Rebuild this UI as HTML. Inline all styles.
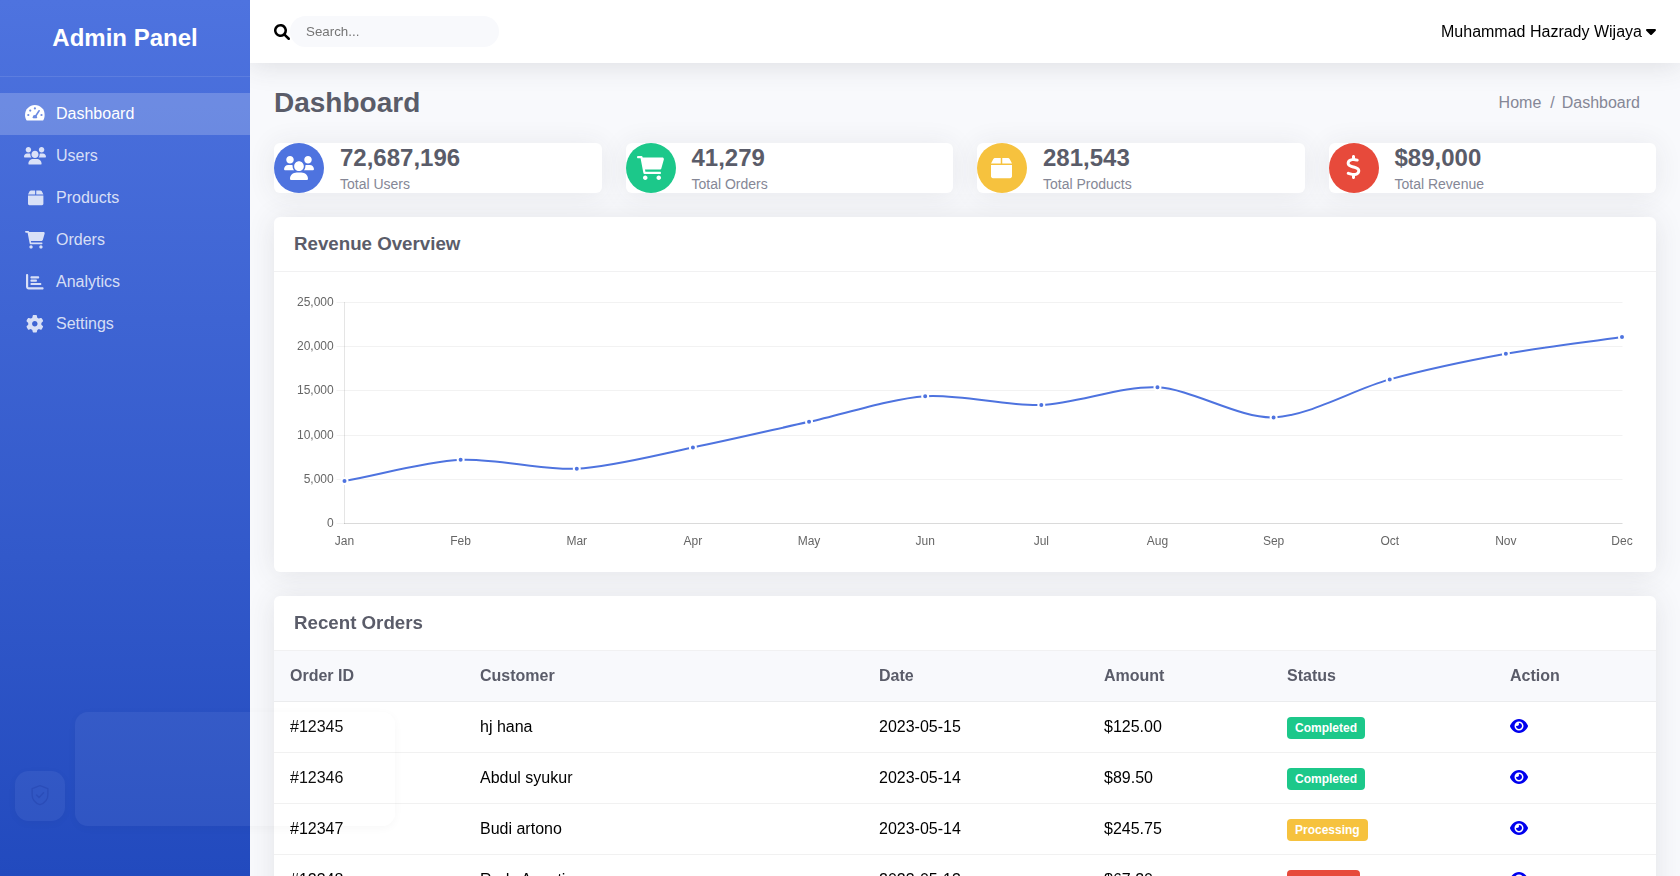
<!DOCTYPE html>
<html lang="en">
<head>
<meta charset="utf-8">
<title>Admin Panel</title>
<style>
*{box-sizing:border-box;margin:0;padding:0}
html,body{width:1680px;height:876px;overflow:hidden}
body{font-family:"Liberation Sans",sans-serif;font-size:16px;background:#f8f9fc;color:#000;position:relative}
svg{display:block}
/* ---------- sidebar ---------- */
.sidebar{position:absolute;left:0;top:0;width:250px;height:876px;background:linear-gradient(180deg,#4e73df 0%,#224abe 100%);color:#fff;z-index:5}
.sb-head{height:77px;padding:20px;border-bottom:1px solid rgba(255,255,255,.1);text-align:center}
.sb-head h2{font-size:24px;line-height:36px;font-weight:bold;color:#fff}
.menu{padding-top:16px;list-style:none}
.menu li{height:42px;padding:12px 24px;display:flex;align-items:center;color:rgba(255,255,255,.8);line-height:18px}
.menu li.active{background:rgba(255,255,255,.2);color:#fff}
.menu li .ic{width:22px;height:18px;margin-right:10px;display:flex;align-items:center;justify-content:center;flex:none}
.menu li .ic svg{height:17.6px;fill:currentColor;overflow:visible}
/* ---------- main ---------- */
.main{position:absolute;left:250px;top:0;width:1430px;height:876px}
.topbar{position:absolute;left:0;top:0;width:1430px;height:63px;background:#fff;box-shadow:0 2px 28px 0 rgba(58,59,69,.15);z-index:3}
.search-ic{position:absolute;left:24px;top:24px;width:16px;height:16px}
.search-in{will-change:transform;position:absolute;left:40px;top:16px;width:209px;height:31px;border-radius:16px;background:#f8f9fc;font-size:13.333px;color:#757575;padding:8px 16px;line-height:15px}
.user{will-change:transform;position:absolute;right:24px;top:23px;font-size:16px;line-height:18px;color:#000;display:flex;align-items:center;white-space:pre}
.user svg{width:10px;height:16px;fill:#000;position:relative;top:-1px}
.title{position:absolute;left:24px;top:86.5px;font-size:28px;font-weight:bold;color:#5a5c69;line-height:32px}
.crumb{position:absolute;right:40px;top:94px;font-size:16px;line-height:18px;color:#858796;white-space:pre}
.card{position:absolute;top:143px;width:327.5px;height:50px;background:#fff;border-radius:6px;box-shadow:0 2px 28px 0 rgba(58,59,69,.09)}
.card .circ{position:absolute;left:0;top:0;width:50px;height:50px;border-radius:50%;display:flex;align-items:center;justify-content:center}
.card .circ svg{height:24px;fill:#fff}
.card .num{position:absolute;left:66px;top:1px;font-size:24px;line-height:28px;font-weight:bold;color:#5a5c69}
.card .lab{position:absolute;left:66px;top:33px;font-size:14px;line-height:16px;color:#858796}
.panel{position:absolute;left:24px;width:1382px;background:#fff;border-radius:6px;box-shadow:0 2px 28px 0 rgba(58,59,69,.115);overflow:hidden}
.phead{height:55px;border-bottom:1px solid #f1f1f2;padding:0 20px;font-size:18.72px;font-weight:bold;color:#5a5c69;line-height:54px}
.chart{position:absolute;left:0;top:55px;will-change:transform}
.tbl{position:absolute;left:0;top:55px;width:1382px;border-collapse:separate;border-spacing:0;table-layout:fixed}
.tbl th{height:51px;background:#f8f9fc;text-align:left;padding:0 16px;font-size:16px;font-weight:bold;color:#5a5c69;border-bottom:1px solid #ebecee}
.tbl td{height:51px;padding:0 16px;font-size:16px;color:#000;border-bottom:1px solid #f1f1f1;vertical-align:middle}
.badge{display:inline-block;padding:4px 8px;border-radius:4px;font-size:12px;line-height:14px;font-weight:bold;color:#fff;vertical-align:middle;position:relative;top:1px}
.badge.ok{background:#1cc88a}.badge.pr{background:#f6c23e}.badge.ca{background:#e74a3b}
.eye{width:18px;height:16px;fill:#0000ee;position:relative;top:-1px}
.wg-big{position:absolute;left:75px;top:712px;width:320px;height:114px;border-radius:13px;background:rgba(255,255,255,.055);box-shadow:0 2px 10px rgba(0,0,40,.035);z-index:9}
.wg-sm{position:absolute;left:15px;top:771px;width:50px;height:50px;border-radius:14px;background:rgba(255,255,255,.055);box-shadow:0 2px 10px rgba(0,0,40,.035);z-index:9;display:flex;align-items:center;justify-content:center}
</style>
</head>
<body>
<div class="sidebar">
  <div class="sb-head"><h2>Admin Panel</h2></div>
  <ul class="menu" id="menu">
    <li class="active"><span class="ic"><svg viewBox="0 0 576 512" style="position:relative;top:-1px"><defs><mask id="gm"><rect x="0" y="0" width="576" height="512" fill="#fff"/><circle cx="288" cy="128" r="32" fill="#000"/><circle cx="152" cy="192" r="32" fill="#000"/><circle cx="96" cy="320" r="32" fill="#000"/><circle cx="480" cy="320" r="32" fill="#000"/><line x1="288" y1="384" x2="411" y2="197" stroke="#000" stroke-width="46" stroke-linecap="round"/><circle cx="288" cy="384" r="64" fill="#000"/><rect x="200" y="416" width="180" height="80" fill="#fff"/></mask></defs><path mask="url(#gm)" d="M288 32C128.900 32 0 160.900 0 320c0 52.750 14.250 102.300 39 144.800c5.625 9.625 16.380 15.250 27.500 15.250h443c11.120 0 21.880-5.625 27.500-15.250C561.800 422.300 576 372.800 576 320C576 160.900 447.100 32 288 32z"/></svg></span>Dashboard</li>
    <li><span class="ic"><svg viewBox="0 0 640 512"><path d="M319.900 320c57.410 0 103.100-46.560 103.100-104c0-57.440-46.540-104-103.100-104c-57.410 0-103.100 46.560-103.100 104C215.900 273.400 262.500 320 319.900 320zM369.900 352H270.100C191.600 352 128 411.700 128 485.300C128 500.100 140.700 512 156.400 512h327.200C499.300 512 512 500.100 512 485.300C512 411.700 448.400 352 369.900 352zM512 160c44.180 0 80-35.820 80-80S556.200 0 512 0c-44.180 0-80 35.820-80 80S467.800 160 512 160zM183.900 216c0-5.449 .9824-10.630 1.609-15.910C174.600 194.100 162.600 192 149.900 192H88.080C39.440 192 0 233.800 0 285.300C0 295.600 7.887 304 17.620 304h199.500C196.700 280.200 183.900 249.700 183.900 216zM128 160c44.180 0 80-35.820 80-80S172.200 0 128 0C83.820 0 48 35.820 48 80S83.820 160 128 160zM551.900 192h-61.840c-12.800 0-24.880 3.037-35.860 8.240C454.800 205.500 455.800 210.600 455.800 216c0 33.710-12.780 64.210-33.160 88h199.700C632.100 304 640 295.600 640 285.300C640 233.800 600.600 192 551.900 192z"/></svg></span>Users</li>
    <li><span class="ic"><svg viewBox="0 0 448 512" style="position:relative;left:0.3px"><path d="M47 68C55 52 75 44 93.670 44H208V160H0z M240 160V44H354.3C373 44 393 52 401 68L448 160z M448 432c0 22.100-17.900 40-40 40H40c-22.100 0-40-17.900-40-40V192H448z"/></svg></span>Products</li>
    <li><span class="ic"><svg viewBox="0 0 576 512"><path d="M96 0C107.500 0 117.400 8.190 119.600 19.510L121.100 32H541.800C562.100 32 578.300 52.250 572.600 72.660L518.600 264.700C514.700 278.500 502.100 288 487.800 288H170.700L179.900 336H488C501.300 336 512 346.700 512 360C512 373.300 501.300 384 488 384H159.100C148.500 384 138.600 375.800 136.400 364.500L76.140 48H24C10.750 48 0 37.250 0 24C0 10.750 10.750 0 24 0H96zM128 464C128 437.500 149.500 416 176 416C202.500 416 224 437.500 224 464C224 490.500 202.500 512 176 512C149.500 512 128 490.500 128 464zM512 464C512 490.500 490.500 512 464 512C437.500 512 416 490.500 416 464C416 437.500 437.500 416 464 416C490.500 416 512 437.500 512 464z"/></svg></span>Orders</li>
    <li><span class="ic"><svg viewBox="0 0 512 512"><path d="M32 32C49.670 32 64 46.330 64 64V400C64 408.800 71.160 416 80 416H480C497.700 416 512 430.300 512 448C512 465.700 497.700 480 480 480H80C35.820 480 0 444.200 0 400V64C0 46.330 14.330 32 32 32zM128 128C128 110.300 142.300 96 160 96H352C369.700 96 384 110.300 384 128C384 145.700 369.700 160 352 160H160C142.300 160 128 145.700 128 128zM288 192C305.700 192 320 206.300 320 224C320 241.700 305.700 256 288 256H160C142.300 256 128 241.700 128 224C128 206.300 142.300 192 160 192H288zM416 288C433.700 288 448 302.300 448 320C448 337.700 433.700 352 416 352H160C142.300 352 128 337.700 128 320C128 302.300 142.300 288 160 288H416z"/></svg></span>Analytics</li>
    <li><span class="ic"><svg viewBox="0 0 512 512"><path d="M495.900 166.600C499.200 175.200 496.400 184.900 489.600 191.200L446.300 230.600C447.400 238.900 448 247.400 448 256C448 264.600 447.400 273.100 446.300 281.400L489.600 320.800C496.400 327.100 499.200 336.800 495.900 345.400C491.500 357.300 486.200 368.800 480.200 379.700L475.500 387.800C468.900 398.800 461.500 409.200 453.400 419.100C447.400 426.200 437.700 428.700 428.900 425.900L373.200 408.100C359.800 418.400 344.100 427 329.200 433.600L316.700 490.700C314.700 499.700 307.700 506.100 298.500 508.500C284.700 510.800 270.500 512 255.100 512C241.500 512 227.300 510.800 213.500 508.500C204.300 506.100 197.300 499.700 195.300 490.700L182.800 433.600C167 427 152.200 418.400 138.800 408.100L83.140 425.900C74.300 428.700 64.550 426.200 58.630 419.100C50.520 409.200 43.120 398.800 36.520 387.800L31.840 379.700C25.770 368.800 20.490 357.300 16.060 345.400C12.820 336.800 15.550 327.100 22.410 320.800L65.670 281.400C64.570 273.100 64 264.600 64 256C64 247.400 64.570 238.900 65.670 230.600L22.410 191.200C15.550 184.900 12.820 175.300 16.060 166.600C20.490 154.700 25.780 143.200 31.840 132.300L36.510 124.200C43.120 113.200 50.520 102.800 58.630 92.950C64.550 85.800 74.300 83.320 83.140 86.140L138.800 103.900C152.200 93.560 167 84.960 182.800 78.430L195.300 21.330C197.300 12.250 204.300 5.040 213.500 3.510C227.300 1.201 241.500 0 256 0C270.500 0 284.700 1.201 298.500 3.510C307.700 5.040 314.700 12.250 316.700 21.330L329.200 78.430C344.100 84.960 359.800 93.560 373.200 103.900L428.900 86.140C437.700 83.320 447.400 85.800 453.400 92.950C461.500 102.800 468.900 113.200 475.500 124.200L480.200 132.300C486.200 143.200 491.500 154.700 495.900 166.600V166.600zM256 336C300.200 336 336 300.200 336 255.100C336 211.800 300.200 175.100 256 175.100C211.800 175.100 176 211.800 176 255.100C176 300.200 211.800 336 256 336z"/></svg></span>Settings</li>
  </ul>
</div>
<div class="main">
  <div class="topbar">
    <svg class="search-ic" viewBox="0 0 512 512"><path d="M500.3 443.7l-119.700-119.700c27.220-40.410 40.650-90.900 33.460-144.700C401.800 87.790 326.800 13.320 235.200 1.723C99.010-15.510-15.510 99.010 1.724 235.200c11.600 91.640 86.080 166.700 177.600 178.900c53.800 7.189 104.300-6.236 144.700-33.460l119.700 119.700c15.620 15.620 40.950 15.620 56.570 0C515.900 484.700 515.900 459.300 500.300 443.700zM79.100 208c0-70.580 57.420-128 128-128s128 57.420 128 128c0 70.580-57.420 128-128 128S79.100 278.600 79.100 208z"/></svg>
    <div class="search-in">Search...</div>
    <div class="user">Muhammad Hazrady Wijaya <svg viewBox="0 0 320 512"><path d="M310.600 246.600l-127.100 128C176.400 380.900 168.200 384 160 384s-16.380-3.125-22.630-9.375l-127.100-128C.2244 237.500-2.516 223.700 2.438 211.800S19.070 192 32 192h255.100c12.940 0 24.620 7.781 29.580 19.750S319.800 237.500 310.600 246.600z"/></svg></div>
  </div>
  <div class="title">Dashboard</div>
  <div class="crumb">Home  /<span style="margin-left:7.1px">Dashboard</span></div>
  <div class="cards">
    <div class="card" style="left:24px"><div class="circ" style="background:#4e73df"><svg viewBox="0 0 640 512"><path d="M319.900 320c57.410 0 103.100-46.560 103.100-104c0-57.440-46.540-104-103.100-104c-57.410 0-103.100 46.560-103.100 104C215.900 273.400 262.500 320 319.900 320zM369.900 352H270.100C191.600 352 128 411.700 128 485.300C128 500.100 140.700 512 156.400 512h327.200C499.300 512 512 500.100 512 485.300C512 411.700 448.400 352 369.900 352zM512 160c44.180 0 80-35.820 80-80S556.200 0 512 0c-44.180 0-80 35.820-80 80S467.800 160 512 160zM183.900 216c0-5.449 .9824-10.630 1.609-15.910C174.600 194.100 162.600 192 149.900 192H88.080C39.440 192 0 233.800 0 285.300C0 295.600 7.887 304 17.620 304h199.500C196.700 280.200 183.900 249.700 183.900 216zM128 160c44.180 0 80-35.820 80-80S172.200 0 128 0C83.820 0 48 35.820 48 80S83.820 160 128 160zM551.900 192h-61.840c-12.800 0-24.880 3.037-35.860 8.240C454.800 205.500 455.800 210.600 455.800 216c0 33.710-12.780 64.210-33.160 88h199.700C632.100 304 640 295.600 640 285.300C640 233.800 600.600 192 551.900 192z"/></svg></div><div class="num">72,687,196</div><div class="lab">Total Users</div></div>
    <div class="card" style="left:375.5px"><div class="circ" style="background:#1cc88a"><svg viewBox="0 0 576 512"><path d="M96 0C107.500 0 117.400 8.190 119.600 19.510L121.100 32H541.800C562.100 32 578.300 52.250 572.600 72.660L518.600 264.700C514.700 278.500 502.100 288 487.800 288H170.700L179.900 336H488C501.300 336 512 346.700 512 360C512 373.300 501.300 384 488 384H159.100C148.500 384 138.600 375.800 136.400 364.500L76.140 48H24C10.750 48 0 37.250 0 24C0 10.750 10.750 0 24 0H96zM128 464C128 437.500 149.500 416 176 416C202.500 416 224 437.500 224 464C224 490.500 202.500 512 176 512C149.500 512 128 490.500 128 464zM512 464C512 490.500 490.500 512 464 512C437.500 512 416 490.500 416 464C416 437.500 437.500 416 464 416C490.500 416 512 437.500 512 464z"/></svg></div><div class="num">41,279</div><div class="lab">Total Orders</div></div>
    <div class="card" style="left:727px"><div class="circ" style="background:#f6c23e"><svg viewBox="0 0 448 512" style="position:relative;left:-0.8px"><path d="M47 68C55 52 75 44 93.670 44H208V160H0z M240 160V44H354.3C373 44 393 52 401 68L448 160z M448 432c0 22.100-17.900 40-40 40H40c-22.100 0-40-17.900-40-40V192H448z"/></svg></div><div class="num">281,543</div><div class="lab">Total Products</div></div>
    <div class="card" style="left:1078.5px"><div class="circ" style="background:#e74a3b"><svg viewBox="0 0 320 512" style="position:relative;top:-0.6px"><path d="M160 0c17.700 0 32 14.300 32 32V67.700c1.600 .2 3.100 .4 4.700 .7c.4 .1 .7 .1 1.100 .2l48 8.800c17.400 3.200 28.900 19.900 25.700 37.200s-19.900 28.900-37.200 25.700l-47.500-8.700c-31.300-4.600-58.900-1.500-78.300 6.200s-27.200 18.300-29 28.100c-2 10.700-.5 16.700 1.200 20.400c1.800 3.900 5.500 8.300 12.800 13.200c16.300 10.700 41.300 17.700 73.700 26.300l2.900 .8c28.600 7.600 63.600 16.800 89.600 33.800c14.200 9.300 27.600 21.900 35.900 39.500c8.500 17.900 10.300 37.900 6.400 59.200c-6.900 38-33.100 63.400-65.600 76.700c-13.700 5.600-28.600 9.200-44.400 11V480c0 17.700-14.300 32-32 32s-32-14.300-32-32V445.100c-.4-.1-.9-.1-1.300-.2l-.2 0 0 0c-24.400-3.800-64.500-14.300-91.500-26.300c-16.100-7.200-23.400-26.100-16.200-42.200s26.100-23.400 42.200-16.200c20.900 9.300 55.300 18.500 75.200 21.600c31.900 4.700 58.200 2 76-5.300c16.900-6.900 24.600-16.900 26.800-28.900c1.900-10.600 .4-16.700-1.300-20.400c-1.900-4-5.600-8.400-13-13.300c-16.400-10.700-41.500-17.700-74-26.300l-2.800-.7 0 0C119.400 279.300 84.400 270 58.400 253c-14.200-9.300-27.500-22-35.800-39.600c-8.400-17.900-10.100-37.900-6.100-59.200C23.700 116 52.300 91.200 84.800 78.300c13.300-5.300 27.900-8.900 43.200-11V32c0-17.700 14.300-32 32-32z"/></svg></div><div class="num">$89,000</div><div class="lab">Total Revenue</div></div>
  </div>
  <div class="panel" style="top:217px;height:355px">
    <div class="phead">Revenue Overview</div>
<svg class="chart" width="1382" height="300" viewBox="24 272 1382 300">
<line x1="86.5" x2="1372.5" y1="523.5" y2="523.5" stroke="rgba(0,0,0,0.05)" stroke-width="1"/>
<line x1="86.5" x2="1372.5" y1="479.5" y2="479.5" stroke="rgba(0,0,0,0.05)" stroke-width="1"/>
<line x1="86.5" x2="1372.5" y1="435.5" y2="435.5" stroke="rgba(0,0,0,0.05)" stroke-width="1"/>
<line x1="86.5" x2="1372.5" y1="390.5" y2="390.5" stroke="rgba(0,0,0,0.05)" stroke-width="1"/>
<line x1="86.5" x2="1372.5" y1="346.5" y2="346.5" stroke="rgba(0,0,0,0.05)" stroke-width="1"/>
<line x1="86.5" x2="1372.5" y1="302.5" y2="302.5" stroke="rgba(0,0,0,0.05)" stroke-width="1"/>
<line x1="94.5" x2="94.5" y1="302.0" y2="524.0" stroke="rgba(0,0,0,0.1)" stroke-width="1"/>
<line x1="94.0" x2="1372.5" y1="523.5" y2="523.5" stroke="rgba(0,0,0,0.1)" stroke-width="1"/>
<path d="M94.50 481.07 C129.34 474.70 175.56 461.72 210.64 459.85 C245.24 458.01 292.17 470.54 326.77 468.69 C361.85 466.82 408.20 454.48 442.91 447.48 C477.88 440.42 524.20 429.53 559.05 421.84 C593.89 414.15 639.98 398.75 675.18 396.20 C709.66 393.71 756.63 406.36 791.32 405.04 C826.31 403.71 872.98 385.53 907.45 387.36 C942.66 389.24 989.07 418.60 1023.59 417.42 C1058.75 416.22 1104.41 389.08 1139.73 379.41 C1174.10 369.99 1220.79 360.18 1255.86 353.77 C1290.47 347.45 1337.16 342.01 1372.00 336.98" fill="none" stroke="#4e73df" stroke-width="2" stroke-linecap="butt" stroke-linejoin="miter"/>
<circle cx="94.50" cy="481.07" r="3" fill="#4e73df" stroke="#fff" stroke-width="2"/>
<circle cx="210.64" cy="459.85" r="3" fill="#4e73df" stroke="#fff" stroke-width="2"/>
<circle cx="326.77" cy="468.69" r="3" fill="#4e73df" stroke="#fff" stroke-width="2"/>
<circle cx="442.91" cy="447.48" r="3" fill="#4e73df" stroke="#fff" stroke-width="2"/>
<circle cx="559.05" cy="421.84" r="3" fill="#4e73df" stroke="#fff" stroke-width="2"/>
<circle cx="675.18" cy="396.20" r="3" fill="#4e73df" stroke="#fff" stroke-width="2"/>
<circle cx="791.32" cy="405.04" r="3" fill="#4e73df" stroke="#fff" stroke-width="2"/>
<circle cx="907.45" cy="387.36" r="3" fill="#4e73df" stroke="#fff" stroke-width="2"/>
<circle cx="1023.59" cy="417.42" r="3" fill="#4e73df" stroke="#fff" stroke-width="2"/>
<circle cx="1139.73" cy="379.41" r="3" fill="#4e73df" stroke="#fff" stroke-width="2"/>
<circle cx="1255.86" cy="353.77" r="3" fill="#4e73df" stroke="#fff" stroke-width="2"/>
<circle cx="1372.00" cy="336.98" r="3" fill="#4e73df" stroke="#fff" stroke-width="2"/>
<g font-family="Liberation Sans, sans-serif" font-size="12" fill="#666">
<text x="83.7" y="526.9" text-anchor="end">0</text>
<text x="83.7" y="482.7" text-anchor="end">5,000</text>
<text x="83.7" y="438.5" text-anchor="end">10,000</text>
<text x="83.7" y="394.3" text-anchor="end">15,000</text>
<text x="83.7" y="350.1" text-anchor="end">20,000</text>
<text x="83.7" y="305.9" text-anchor="end">25,000</text>
<text x="94.50" y="545.0" text-anchor="middle">Jan</text>
<text x="210.64" y="545.0" text-anchor="middle">Feb</text>
<text x="326.77" y="545.0" text-anchor="middle">Mar</text>
<text x="442.91" y="545.0" text-anchor="middle">Apr</text>
<text x="559.05" y="545.0" text-anchor="middle">May</text>
<text x="675.18" y="545.0" text-anchor="middle">Jun</text>
<text x="791.32" y="545.0" text-anchor="middle">Jul</text>
<text x="907.45" y="545.0" text-anchor="middle">Aug</text>
<text x="1023.59" y="545.0" text-anchor="middle">Sep</text>
<text x="1139.73" y="545.0" text-anchor="middle">Oct</text>
<text x="1255.86" y="545.0" text-anchor="middle">Nov</text>
<text x="1372.00" y="545.0" text-anchor="middle">Dec</text>
</g>
</svg>
  </div>
  <div class="panel" style="top:596px;height:400px">
    <div class="phead">Recent Orders</div>
    <table class="tbl">
      <colgroup><col style="width:190px"><col style="width:399px"><col style="width:225px"><col style="width:183px"><col style="width:223px"><col style="width:162px"></colgroup>
      <thead><tr><th>Order ID</th><th>Customer</th><th>Date</th><th>Amount</th><th>Status</th><th>Action</th></tr></thead>
      <tbody>
        <tr><td>#12345</td><td>hj hana</td><td>2023-05-15</td><td>$125.00</td><td><span class="badge ok">Completed</span></td><td><svg class="eye" viewBox="0 0 576 512"><path d="M279.600 160.400C282.400 160.100 285.200 160 288 160C341 160 384 202.100 384 256C384 309 341 352 288 352C234.100 352 192 309 192 256C192 253.200 192.100 250.400 192.400 247.600C201.700 252.100 212.500 256 224 256C259.300 256 288 227.300 288 192C288 180.500 284.100 169.700 279.600 160.400zM480.600 112.600C527.400 156 558.700 207.100 573.500 243.700C576.800 251.600 576.800 260.400 573.500 268.300C558.700 304 527.400 355.100 480.600 399.400C433.500 443.200 368.800 480 288 480C207.200 480 142.500 443.200 95.420 399.400C48.620 355.100 17.340 304 2.461 268.300C-.8205 260.400-.8205 251.600 2.461 243.700C17.340 207.100 48.620 156 95.420 112.600C142.500 68.840 207.200 32 288 32C368.800 32 433.500 68.840 480.600 112.600V112.600zM288 112C208.500 112 144 176.500 144 256C144 335.500 208.500 400 288 400C367.500 400 432 335.500 432 256C432 176.500 367.500 112 288 112z"/></svg></td></tr>
        <tr><td>#12346</td><td>Abdul syukur</td><td>2023-05-14</td><td>$89.50</td><td><span class="badge ok">Completed</span></td><td><svg class="eye" viewBox="0 0 576 512"><path d="M279.600 160.400C282.400 160.100 285.200 160 288 160C341 160 384 202.100 384 256C384 309 341 352 288 352C234.100 352 192 309 192 256C192 253.200 192.100 250.400 192.400 247.600C201.700 252.100 212.500 256 224 256C259.300 256 288 227.300 288 192C288 180.500 284.100 169.700 279.600 160.400zM480.600 112.600C527.400 156 558.700 207.100 573.500 243.700C576.800 251.600 576.800 260.400 573.500 268.300C558.700 304 527.400 355.100 480.600 399.400C433.500 443.200 368.800 480 288 480C207.200 480 142.500 443.200 95.420 399.400C48.620 355.100 17.340 304 2.461 268.300C-.8205 260.400-.8205 251.600 2.461 243.700C17.340 207.100 48.620 156 95.420 112.600C142.500 68.840 207.200 32 288 32C368.800 32 433.500 68.840 480.600 112.600V112.600zM288 112C208.500 112 144 176.500 144 256C144 335.500 208.500 400 288 400C367.500 400 432 335.500 432 256C432 176.500 367.500 112 288 112z"/></svg></td></tr>
        <tr><td>#12347</td><td>Budi artono</td><td>2023-05-14</td><td>$245.75</td><td><span class="badge pr">Processing</span></td><td><svg class="eye" viewBox="0 0 576 512"><path d="M279.600 160.400C282.400 160.100 285.200 160 288 160C341 160 384 202.100 384 256C384 309 341 352 288 352C234.100 352 192 309 192 256C192 253.200 192.100 250.400 192.400 247.600C201.700 252.100 212.500 256 224 256C259.300 256 288 227.300 288 192C288 180.500 284.100 169.700 279.600 160.400zM480.600 112.600C527.400 156 558.700 207.100 573.500 243.700C576.800 251.600 576.800 260.400 573.500 268.300C558.700 304 527.400 355.100 480.600 399.400C433.500 443.200 368.800 480 288 480C207.200 480 142.500 443.200 95.420 399.400C48.620 355.100 17.340 304 2.461 268.300C-.8205 260.400-.8205 251.600 2.461 243.700C17.340 207.100 48.620 156 95.420 112.600C142.500 68.840 207.200 32 288 32C368.800 32 433.500 68.840 480.600 112.600V112.600zM288 112C208.500 112 144 176.500 144 256C144 335.500 208.500 400 288 400C367.500 400 432 335.500 432 256C432 176.500 367.500 112 288 112z"/></svg></td></tr>
        <tr><td>#12348</td><td>Rudy Agustina</td><td>2023-05-13</td><td>$67.20</td><td><span class="badge ca">Cancelled</span></td><td><svg class="eye" viewBox="0 0 576 512"><path d="M279.600 160.400C282.400 160.100 285.200 160 288 160C341 160 384 202.100 384 256C384 309 341 352 288 352C234.100 352 192 309 192 256C192 253.200 192.100 250.400 192.400 247.600C201.700 252.100 212.500 256 224 256C259.300 256 288 227.300 288 192C288 180.500 284.100 169.700 279.600 160.400zM480.600 112.600C527.400 156 558.700 207.100 573.500 243.700C576.800 251.600 576.800 260.400 573.500 268.300C558.700 304 527.400 355.100 480.600 399.400C433.500 443.200 368.800 480 288 480C207.200 480 142.500 443.200 95.420 399.400C48.620 355.100 17.340 304 2.461 268.300C-.8205 260.400-.8205 251.600 2.461 243.700C17.340 207.100 48.620 156 95.420 112.600C142.500 68.840 207.200 32 288 32C368.800 32 433.500 68.840 480.600 112.600V112.600zM288 112C208.500 112 144 176.500 144 256C144 335.500 208.500 400 288 400C367.500 400 432 335.500 432 256C432 176.500 367.500 112 288 112z"/></svg></td></tr>
      </tbody>
    </table>
  </div>
</div>
<div class="wg-big"></div>
<div class="wg-sm"><svg viewBox="0 0 24 24" width="22" height="22" style="position:relative;top:-1px" fill="none" stroke="rgba(20,40,140,.22)" stroke-width="1.5" stroke-linecap="round" stroke-linejoin="round"><path d="M12 1.8l8.600 3.200v6.600c0 5.200-3.600 9.100-8.600 10.900c-5-1.800-8.600-5.700-8.600-10.900V5z"/><path d="M8.300 12.100l2.700 2.700l4.900-5.200"/></svg></div>
</body>
</html>
